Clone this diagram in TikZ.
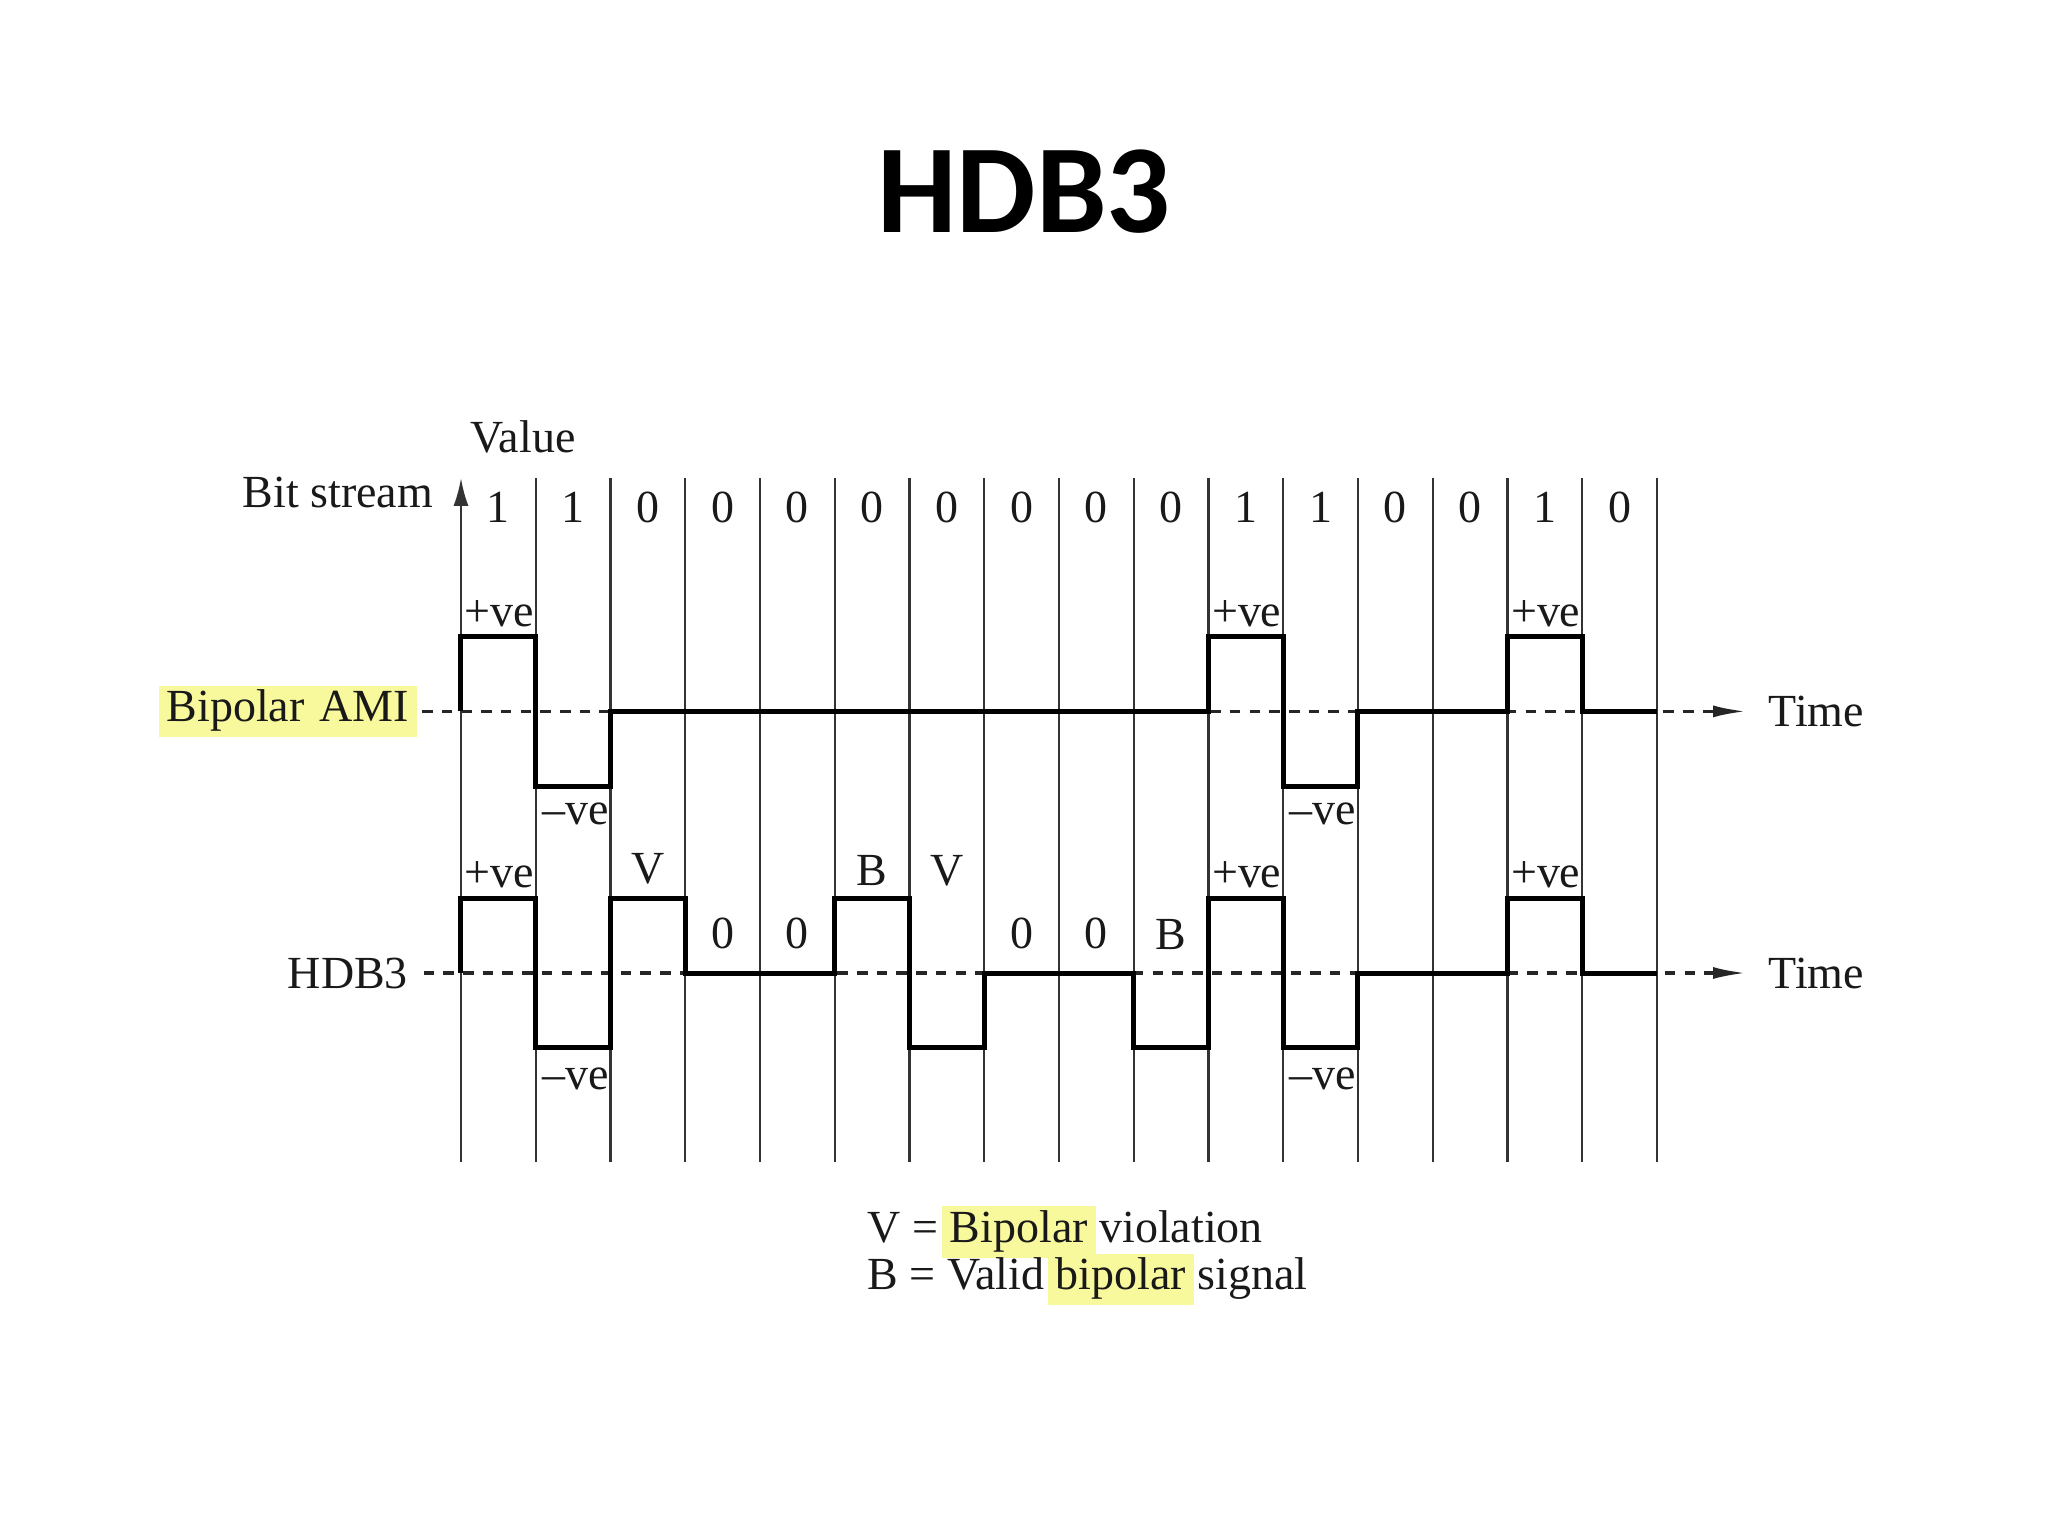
\documentclass[tikz,border=0pt]{standalone}
\usepackage{fontspec}
\setmainfont{Liberation Serif}
\newfontfamily\titlefont{Carlito}
\usetikzlibrary{positioning}
\usetikzlibrary{arrows.meta}
\definecolor{hlyellow}{HTML}{F8F89C}
\newcommand{\hlword}[1]{{\fboxsep=1.5pt\kern-3pt\colorbox{hlyellow}{\rule[-0.25em]{0pt}{0.95em}\kern1.5pt#1\kern1.5pt}\kern-3pt}}

\begin{document}
\begin{tikzpicture}[
 txt/.style={font=\fontsize{17.5}{21}\selectfont, text=black!90, inner sep=1pt},
 pol/.style={txt, inner xsep=0.5pt, inner ysep=0pt, anchor=base east},
 tag/.style={txt, inner sep=0pt, anchor=base},
 gridln/.style={black!80, line width=0.9pt},
 zeroln/.style={black!85, line width=1.3pt, dash pattern=on 4pt off 3.5pt},
 sig/.style={black, line width=1.9pt, line join=miter},
 tip/.style={-{Latex[length=4.5mm,width=1.6mm]}}
]
 \useasboundingbox (-6.167,-7.532) rectangle (21.231,13.017);
 \node[font={\titlefont\bfseries\fontsize{48}{56}\selectfont}, anchor=base] (title) at (7.53,9.91) {HDB3};
 \node[txt, anchor=base east] (bitlbl) at (-0.33,6.23) {Bit stream};
 \node[txt, anchor=base] (vallbl) at (0.83,6.96) {Value};
 \draw[gridln, -{Latex[length=3.7mm,width=2mm]}] (0,-2.53) -- (0,6.62);
 \foreach \x in {1,...,16} \draw[gridln] (\x,-2.53) -- (\x,6.62);
 \foreach \b [count=\i] in {1,1,0,0,0,0,0,0,0,0,1,1,0,0,1,0}
  \node[tag] (bit\i) at (\i-0.5,6.03) {\b};
 \node[txt, anchor=east, inner xsep=0pt, outer xsep=0.18cm] (amilbl) at (-0.52,3.5) {\hlword{Bipolar}\hspace{0.32em}\hlword{AMI}};
 \node[txt, anchor=east, inner xsep=0pt, outer xsep=0.21cm] (hdblbl) at (-0.5,0) {HDB3};
 \coordinate (amiend) at (17.2,3.5);
 \coordinate (hdbend) at (17.2,0);
 \draw[zeroln, tip] (amilbl.east) -- (amiend);
 \draw[zeroln, tip] (hdblbl.east) -- (hdbend);
 \node[txt, right=0.25 of amiend] (amitime) {Time};
 \node[txt, right=0.25 of hdbend] (hdbtime) {Time};
 \draw[sig] (0,3.5)--(0,4.5)--(1,4.5)--(1,2.5)--(2,2.5)--(2,3.5)--(10,3.5)--(10,4.5)--(11,4.5)--(11,2.5)--(12,2.5)--(12,3.5)--(14,3.5)--(14,4.5)--(15,4.5)--(15,3.5)--(16,3.5);
 \draw[sig] (0,0)--(0,1)--(1,1)--(1,-1)--(2,-1)--(2,1)--(3,1)--(3,0)--(5,0)--(5,1)--(6,1)--(6,-1)--(7,-1)--(7,0)--(9,0)--(9,-1)--(10,-1)--(10,1)--(11,1)--(11,-1)--(12,-1)--(12,0)--(14,0)--(14,1)--(15,1)--(15,0)--(16,0);
 \foreach \x in {1,11,15} \node[pol] (amipos\x) at (\x,4.64) {+ve};
 \foreach \x in {2,12} \node[pol] (amineg\x) at (\x,1.99) {--ve};
 \foreach \x in {1,11,15} \node[pol] (hdbpos\x) at (\x,1.15) {+ve};
 \foreach \x in {2,12} \node[pol] (hdbneg\x) at (\x,-1.56) {--ve};
 \node[tag] (viol1) at (2.5,1.2) {V};
 \node[tag] (zero1) at (3.5,0.33) {0};
 \node[tag] (zero2) at (4.5,0.33) {0};
 \node[tag] (bal1) at (5.5,1.17) {B};
 \node[tag] (viol2) at (6.5,1.17) {V};
 \node[tag] (zero3) at (7.5,0.33) {0};
 \node[tag] (zero4) at (8.5,0.33) {0};
 \node[tag] (bal2) at (9.5,0.31) {B};
 \node[txt, anchor=base west] (legv) at (5.4,-3.6) {V = \hlword{Bipolar} violation};
 \node[txt, anchor=base west] (legb) at (5.4,-4.24) {B = Valid \hlword{bipolar} signal};
\end{tikzpicture}
\end{document}
